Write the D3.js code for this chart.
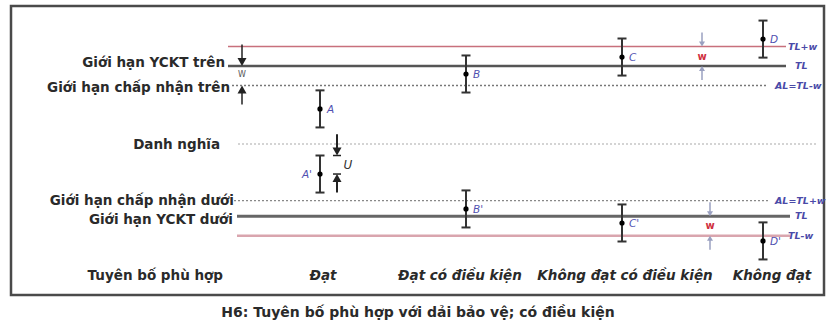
<!DOCTYPE html>
<html><head><meta charset="utf-8">
<script src="https://cdn.jsdelivr.net/npm/d3@7"></script>
<style>body{margin:0;background:#fff}svg{display:block}</style>
</head><body>
<svg id="c" width="835" height="334"></svg>
<script>
// ---- data ----
const categories = ["Đạt", "Đạt có điều kiện", "Không đạt có điều kiện", "Không đạt"];
const upperNames = ["A", "B", "C", "D"];
const upperValues = [1.8, 3.59, 4.46, 5.38];
const upperU = [0.95, 0.95, 0.95, 0.95];
const lowerNames = ["A'", "B'", "C'", "D'"];
const lowerValues = [-1.54, -3.33, -4.05, -4.97];
const lowerU = [0.95, 0.95, 0.95, 0.95];
const leftLabels = ["Giới hạn YCKT trên", "Giới hạn chấp nhận trên", "Danh nghĩa", "Giới hạn chấp nhận dưới", "Giới hạn YCKT dưới"];
const leftLabelValues = [4.2, 2.9, 0, -2.9, -3.85];
const limitKeys = ["TLw_up", "TL_up", "AL_up", "NOM", "AL_lo", "TL_lo", "TLw_lo"];
const limitValues = [5, 4, 3, 0, -2.9, -3.7, -4.7];
const rightTags = ["TL+w", "TL", "AL=TL-w", "", "AL=TL+w", "TL", "TL-w"];
const rowTitle = "Tuyên bố phù hợp";
const caption = "H6: Tuyên bố phù hợp với dải bảo vệ; có điều kiện";

// ---- layout ----
const svg = d3.select("#c");
const y = d3.scaleLinear().domain([-5, 5]).range([241.5, 46.5]);
const x = d3.scaleOrdinal().domain(categories).range([320, 466, 622, 763]);
const labelDx = [3, -6, 3, 9];
const lim = {}; limitKeys.forEach((k, i) => lim[k] = limitValues[i]);
const lf = "DejaVu Sans, Verdana, sans-serif";

// frame
svg.append("rect").attr("x", 11).attr("y", 6).attr("width", 813).attr("height", 289)
  .attr("fill", "none").attr("stroke", "#4a4a4a").attr("stroke-width", 2.5);

// limit lines
const lineStyle = {
  TLw_up: {x0: 228, x1: 786, stroke: "#c8707c", w: 1.3, dash: null},
  TL_up:  {x0: 228, x1: 786, stroke: "#555", w: 2.5, dash: null},
  AL_up:  {x0: 232, x1: 766, stroke: "#777", w: 1.3, dash: "2,2"},
  NOM:    {x0: 238, x1: 818, stroke: "#aaa", w: 1.2, dash: "2,2"},
  AL_lo:  {x0: 234, x1: 768, stroke: "#888", w: 1.3, dash: "2,2"},
  TL_lo:  {x0: 237, x1: 790, stroke: "#666", w: 3, dash: null},
  TLw_lo: {x0: 237, x1: 790, stroke: "#d9a5ae", w: 2.5, dash: null}
};
const tagX = {TLw_up: 788, TL_up: 795, AL_up: 775, NOM: 0, AL_lo: 775, TL_lo: 795, TLw_lo: 788};
limitKeys.forEach((k, i) => {
  const s = lineStyle[k];
  svg.append("line").attr("x1", s.x0).attr("x2", s.x1)
    .attr("y1", y(limitValues[i])).attr("y2", y(limitValues[i]))
    .attr("stroke", s.stroke).attr("stroke-width", s.w)
    .attr("stroke-dasharray", s.dash);
  if (rightTags[i]) {
    svg.append("text").attr("x", tagX[k]).attr("y", y(limitValues[i]))
      .attr("dy", "0.35em").attr("font-family", lf)
      .attr("font-size", 9.5).attr("font-style", "italic").attr("font-weight", "bold").attr("fill", "#4a4aa8")
      .text(rightTags[i]);
  }
});

// left labels
const leftRight = [225, 230, 220, 234, 233];
leftLabels.forEach((t, i) => {
  svg.append("text").attr("x", leftRight[i]).attr("y", y(leftLabelValues[i]))
    .attr("dy", "0.35em").attr("text-anchor", "end")
    .attr("font-family", lf).attr("font-weight", "bold").attr("font-size", 13.5)
    .attr("fill", "#2a2a2a").text(t);
});
svg.append("text").attr("x", 223).attr("y", 275).attr("dy", "0.35em").attr("text-anchor", "end")
  .attr("font-family", lf).attr("font-weight", "bold").attr("font-size", 13.5)
  .attr("fill", "#2a2a2a").text(rowTitle);

// category labels
categories.forEach((c, i) => {
  svg.append("text").attr("x", x(c) + labelDx[i]).attr("y", 275).attr("dy", "0.35em").attr("text-anchor", "middle")
    .attr("font-family", lf).attr("font-weight", "bold").attr("font-style", "italic").attr("font-size", 13.5)
    .attr("fill", "#2a2a2a").text(c);
});

// caption
svg.append("text").attr("x", 418).attr("y", 312).attr("dy", "0.35em").attr("text-anchor", "middle")
  .attr("font-family", lf).attr("font-weight", "bold").attr("font-size", 14)
  .attr("fill", "#2a2a2a").text(caption);

// arrow helper
function arrow(ax, fromY, tipY, color, hw, hh, sw) {
  const dir = tipY > fromY ? 1 : -1;
  svg.append("line").attr("x1", ax).attr("x2", ax).attr("y1", fromY).attr("y2", tipY - dir * hh * 0.5)
    .attr("stroke", color).attr("stroke-width", sw);
  svg.append("path")
    .attr("d", `M${ax - hw / 2},${tipY - dir * hh} L${ax + hw / 2},${tipY - dir * hh} L${ax},${tipY} Z`)
    .attr("fill", color);
}

// left W marker
arrow(242, y(lim.TLw_up) - 2, y(lim.TL_up), "#222", 9, 8, 1.5);
svg.append("text").attr("x", 242).attr("y", y(lim.TL_up) + 8).attr("dy", "0.35em").attr("text-anchor", "middle")
  .attr("font-family", lf).attr("font-size", 8).attr("fill", "#555").text("W");
arrow(242, y(lim.AL_up) + 19, y(lim.AL_up), "#222", 9, 8, 1.5);

// error bars
function errorBar(cx, v, u, name, side) {
  const g = svg.append("g").attr("stroke", "#333");
  g.append("line").attr("x1", cx).attr("x2", cx).attr("y1", y(v + u)).attr("y2", y(v - u)).attr("stroke-width", 2);
  [v + u, v - u].forEach(e => g.append("line").attr("x1", cx - 4.5).attr("x2", cx + 4.5)
    .attr("y1", y(e)).attr("y2", y(e)).attr("stroke-width", 2));
  svg.append("circle").attr("cx", cx).attr("cy", y(v)).attr("r", 2.6).attr("fill", "#000");
  svg.append("text").attr("x", side > 0 ? cx + 7 : cx - 8).attr("y", y(v)).attr("dy", "0.35em")
    .attr("text-anchor", side > 0 ? "start" : "end")
    .attr("font-family", lf).attr("font-style", "italic").attr("font-size", 10.5).attr("fill", "#5050b0")
    .text(name);
}
categories.forEach((c, i) => {
  errorBar(x(c), upperValues[i], upperU[i], upperNames[i], 1);
  errorBar(x(c), lowerValues[i], lowerU[i], lowerNames[i], i === 0 ? -1 : 1);
});

// U marker next to A'
const ux = x(categories[0]) + 17;
arrow(ux, y(0.5), y(lowerValues[0] + lowerU[0]), "#222", 9, 8, 2);
svg.append("line").attr("x1", ux - 4).attr("x2", ux + 4).attr("y1", y(lowerValues[0] + lowerU[0])).attr("y2", y(lowerValues[0] + lowerU[0])).attr("stroke", "#222").attr("stroke-width", 1.5);
arrow(ux, y(lowerValues[0] - lowerU[0]), y(lowerValues[0]), "#222", 9, 8, 2);
svg.append("line").attr("x1", ux - 4).attr("x2", ux + 4).attr("y1", y(lowerValues[0])).attr("y2", y(lowerValues[0])).attr("stroke", "#222").attr("stroke-width", 1.5);
svg.append("text").attr("x", ux + 11).attr("y", y((lowerValues[0] + lowerValues[0] + lowerU[0]) / 2)).attr("dy", "0.35em")
  .attr("text-anchor", "middle").attr("font-family", lf).attr("font-style", "italic").attr("font-size", 12).attr("fill", "#333").text("U");

// right w markers
const wc = "#9aa0c0";
arrow(702, y(lim.TLw_up) - 14, y(lim.TLw_up), wc, 6, 5, 1.5);
svg.append("text").attr("x", 702).attr("y", y((lim.TLw_up + lim.TL_up) / 2)).attr("dy", "0.35em").attr("text-anchor", "middle")
  .attr("font-family", lf).attr("font-weight", "bold").attr("font-size", 10).attr("fill", "#d03040").text("w");
arrow(702, y(lim.TL_up) + 14, y(lim.TL_up), wc, 6, 5, 1.5);
arrow(710, y(lim.TL_lo) - 14, y(lim.TL_lo), wc, 6, 5, 1.5);
svg.append("text").attr("x", 710).attr("y", y((lim.TL_lo + lim.TLw_lo) / 2)).attr("dy", "0.35em").attr("text-anchor", "middle")
  .attr("font-family", lf).attr("font-weight", "bold").attr("font-size", 10).attr("fill", "#d03040").text("w");
arrow(710, y(lim.TLw_lo) + 14, y(lim.TLw_lo), wc, 6, 5, 1.5);
</script>
</body></html>
